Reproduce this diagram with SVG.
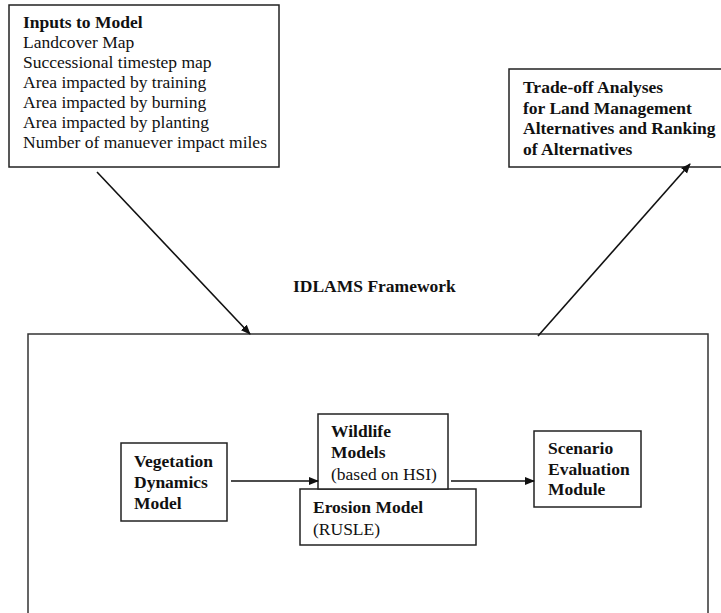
<svg xmlns="http://www.w3.org/2000/svg" width="721" height="613" viewBox="0 0 721 613">
  <style>
    .box { fill: #ffffff; stroke: #222222; stroke-width: 1.5; }
    .frame { fill: none; stroke: #333333; stroke-width: 1.5; }
    .t { font-family: "Liberation Serif", "Times New Roman", serif; font-size: 17.5px; fill: #111111; }
    .b { font-weight: bold; }
    .edge { stroke: #111111; stroke-width: 1.6; fill: none; marker-end: url(#arrow); }
  </style>
  <defs>
    <marker id="arrow" viewBox="0 0 10 10" refX="9" refY="5" markerWidth="10" markerHeight="10" markerUnits="userSpaceOnUse" orient="auto">
      <path d="M0,1 L10,5 L0,9 Z" fill="#111111"/>
    </marker>
  </defs>
  <rect width="721" height="613" fill="#ffffff"/>

  <!-- IDLAMS framework enclosure (open at the bottom) -->
  <g id="framework">
    <path class="frame" d="M28,613 L28,334 L708,334 L708,613"/>
    <text class="t b" x="293" y="292">IDLAMS Framework</text>
  </g>

  <g id="inputs">
    <rect class="box" x="9" y="5" width="270" height="162"/>
    <text class="t" x="23" y="28"><tspan class="b">Inputs to Model</tspan>
      <tspan x="23" dy="20">Landcover Map</tspan>
      <tspan x="23" dy="20">Successional timestep map</tspan>
      <tspan x="23" dy="20">Area impacted by training</tspan>
      <tspan x="23" dy="20">Area impacted by burning</tspan>
      <tspan x="23" dy="20">Area impacted by planting</tspan>
      <tspan x="23" dy="20">Number of manuever impact miles</tspan>
    </text>
  </g>

  <g id="tradeoff">
    <rect class="box" x="509" y="69" width="230" height="98"/>
    <text class="t b" x="523" y="93">Trade-off Analyses
      <tspan x="523" dy="20.5">for Land Management</tspan>
      <tspan x="523" dy="20.5">Alternatives and Ranking</tspan>
      <tspan x="523" dy="20.5">of Alternatives</tspan>
    </text>
  </g>

  <g id="vegetation">
    <rect class="box" x="121" y="443" width="106" height="78"/>
    <text class="t b" x="134" y="467">Vegetation
      <tspan x="134" dy="21">Dynamics</tspan>
      <tspan x="134" dy="21">Model</tspan>
    </text>
  </g>

  <g id="erosion">
    <rect class="box" x="300" y="489" width="176" height="56"/>
    <text class="t" x="313" y="513"><tspan class="b">Erosion Model</tspan>
      <tspan x="313" dy="22">(RUSLE)</tspan>
    </text>
  </g>

  <g id="wildlife">
    <rect class="box" x="318" y="414" width="130" height="75"/>
    <text class="t" x="331" y="437"><tspan class="b">Wildlife</tspan>
      <tspan class="b" x="331" dy="21">Models</tspan>
      <tspan x="331" dy="22">(based on HSI)</tspan>
    </text>
  </g>

  <g id="scenario">
    <rect class="box" x="534" y="431" width="107" height="76"/>
    <text class="t b" x="548" y="454">Scenario
      <tspan x="548" dy="20.5">Evaluation</tspan>
      <tspan x="548" dy="20.5">Module</tspan>
    </text>
  </g>

  <g id="connectors">
    <line class="edge" x1="97" y1="172" x2="250" y2="334"/>
    <line class="edge" x1="538" y1="336" x2="690" y2="164"/>
    <line class="edge" x1="231" y1="481" x2="318" y2="481"/>
    <line class="edge" x1="451" y1="481" x2="534" y2="481"/>
  </g>
</svg>
